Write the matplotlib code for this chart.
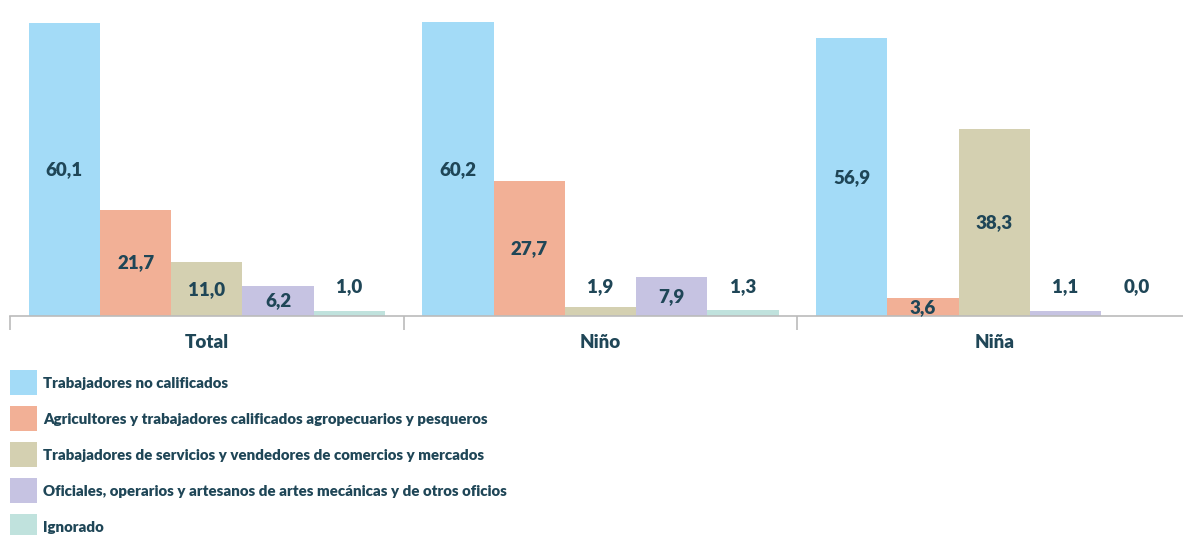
import numpy as np
import matplotlib.pyplot as plt
from matplotlib.patches import Rectangle

plt.rcParams['font.family'] = ['Lato', 'DejaVu Sans']

# Data
groups = ['Total', 'Niño', 'Niña']
series = ['Trabajadores no calificados',
          'Agricultores y trabajadores calificados agropecuarios y pesqueros',
          'Trabajadores de servicios y vendedores de comercios y mercados',
          'Oficiales, operarios y artesanos de artes mecánicas y de otros oficios',
          'Ignorado']
no_calificados = [60.1, 60.2, 56.9]
agricultores = [21.7, 27.7, 3.6]
servicios = [11.0, 1.9, 38.3]
oficiales = [6.2, 7.9, 1.1]
ignorado = [1.0, 1.3, 0.0]
values = [no_calificados, agricultores, servicios, oficiales, ignorado]

colors = ['#a3dbf7', '#f2b096', '#d4d0b1', '#c6c3e2', '#c0e2dd']
text_color = '#1f4657'
wt = 'heavy'

W, H = 1183, 535
fig = plt.figure(figsize=(W / 100, H / 100), dpi=100)
ax = fig.add_axes([10 / W, 219 / H, 1181 / W, 301 / H])

x = np.arange(len(groups))
width = 0.181
for i, (vals, col) in enumerate(zip(values, colors)):
    pos = x + (i - 2) * width
    ax.bar(pos, vals, width=width, color=col, linewidth=0)
    for px, v in zip(pos, vals):
        y = v / 2 if v >= 3 else 6.0
        ax.text(px, y, f'{v:.1f}'.replace('.', ','), ha='center', va='center',
                fontsize=13.5, fontweight=wt, color=text_color)

ax.set_xlim(-0.5, 2.5)
ax.set_ylim(0, 61.7)
for s in ['top', 'left', 'right']:
    ax.spines[s].set_visible(False)
ax.spines['bottom'].set_color('#bbbbbb')
ax.spines['bottom'].set_linewidth(1.2)
ax.set_yticks([])
ax.set_xticks([-0.5, 0.5, 1.5, 2.5])
ax.set_xticklabels([])
ax.tick_params(axis='x', which='major', length=10, width=1.2, color='#bbbbbb')
ax.set_xticks(x, minor=True)
ax.set_xticklabels(groups, minor=True, fontsize=13.5, fontweight=wt, color=text_color)
ax.tick_params(axis='x', which='minor', length=0, pad=13)

# legend drawn by hand, rows 36 px apart
for i, (name, col) in enumerate(zip(series, colors)):
    top = 370 + 36 * i
    fig.patches.append(Rectangle((10 / W, 1 - (top + 25) / H), 27 / W, 25 / H,
                                 transform=fig.transFigure, facecolor=col,
                                 edgecolor='none'))
    fig.text(43 / W, 1 - (top + 13) / H, name, ha='left', va='center',
             fontsize=10.8, fontweight=wt, color=text_color)

fig.savefig('out.png', dpi=100)
